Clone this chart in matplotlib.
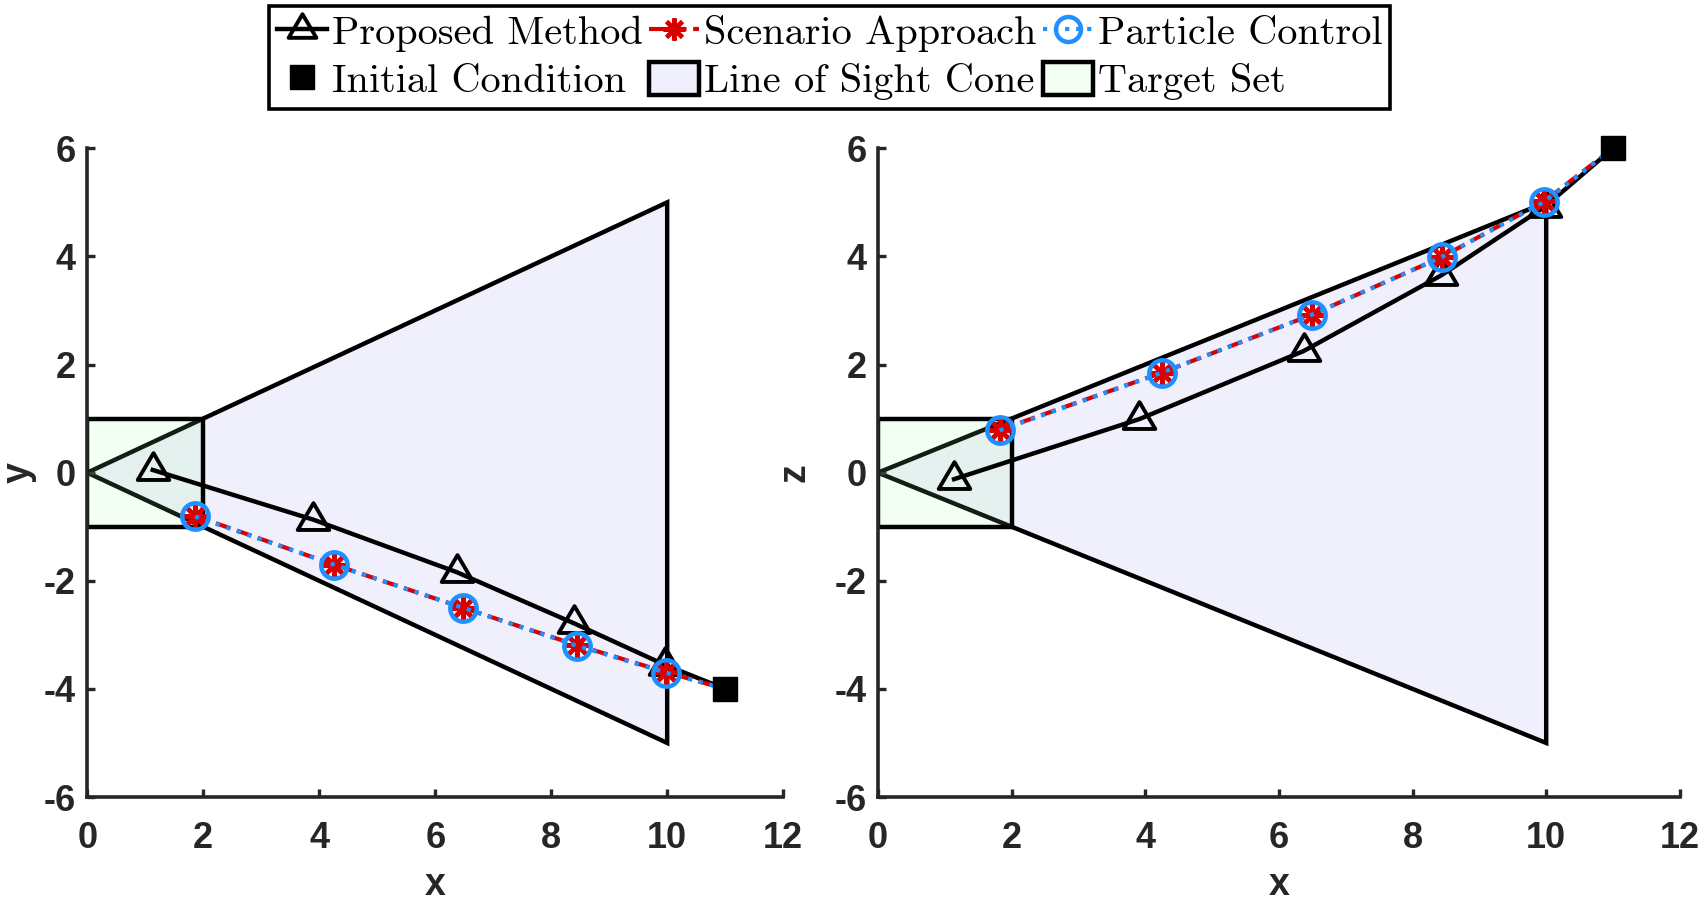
import matplotlib
matplotlib.use('Agg')
import matplotlib.pyplot as plt
from matplotlib.patches import Polygon, Patch
from matplotlib.lines import Line2D
from matplotlib.path import Path

# trajectories (x-y plane on the left, x-z plane on the right)
prop_x_xy = [1.13, 3.90, 6.37, 8.40, 9.97, 11.0]
prop_y_xy = [0.05, -0.87, -1.84, -2.79, -3.56, -4.0]
scen_x_xy = [1.86, 4.25, 6.48, 8.44, 9.98, 11.0]
scen_y_xy = [-0.80, -1.70, -2.50, -3.19, -3.69, -4.0]
part_x_xy = [1.86, 4.25, 6.48, 8.44, 9.98, 11.0]
part_y_xy = [-0.81, -1.70, -2.50, -3.20, -3.70, -4.0]

prop_x_xz = [1.14, 3.91, 6.37, 8.43, 9.98, 11.0]
prop_z_xz = [-0.12, 0.99, 2.25, 3.65, 4.92, 6.0]
scen_x_xz = [1.82, 4.25, 6.49, 8.44, 9.97, 11.0]
scen_z_xz = [0.79, 1.85, 2.92, 3.99, 5.02, 6.0]
part_x_xz = [1.82, 4.25, 6.49, 8.44, 9.97, 11.0]
part_z_xz = [0.78, 1.85, 2.92, 3.99, 5.01, 6.0]

init_xy = (11, -4)
init_xz = (11, 6)

cone_x = [0, 10, 10]
cone_y = [0, 5, -5]
target_x = [0, 2, 2, 0]
target_y = [-1, -1, 1, 1]

ticks_x = [0, 2, 4, 6, 8, 10, 12]
ticks_y = [-6, -4, -2, 0, 2, 4, 6]

plt.rcParams['font.family'] = 'Liberation Sans'
plt.rcParams['font.weight'] = 'bold'
plt.rcParams['axes.unicode_minus'] = False

axcol = '#262626'
red = '#d90000'
blue = '#1e90ff'
cone_fc = '#f0f0fc'
target_fc = (0.6, 1.0, 0.6, 0.12)
# closed, slightly flattened triangle like matlab's '^'
tri = Path([(0, 1.1), (-1, -0.6), (1, -0.6), (0, 1.1)],
           [Path.MOVETO, Path.LINETO, Path.LINETO, Path.CLOSEPOLY])

fig = plt.figure(figsize=(17.07, 9.01), dpi=100)
ax1 = fig.add_axes([0.0511, 0.1154, 0.4077, 0.72])
ax2 = fig.add_axes([0.5143, 0.1154, 0.4698, 0.72])


def draw(ax, px, py, sx, sy, cx, cy, init, ylab, ylab_x):
  ax.add_patch(Polygon(list(zip(cone_x, cone_y)), closed=True, fc=cone_fc, ec='black', lw=3.2, zorder=1))
  ax.add_patch(Polygon(list(zip(target_x, target_y)), closed=True, fc=target_fc, ec='black', lw=3.2, zorder=2))
  n = len(px) - 1
  ax.plot(px, py, color='black', lw=3.2, marker=tri, ms=25, mfc='none', mec='black', mew=2.8,
          markevery=slice(0, n), zorder=3)
  ax.plot(sx, sy, color=red, ls='--', lw=3, marker=(8, 2, 0), ms=18, mew=3,
          markevery=slice(0, n), zorder=4)
  ax.plot(cx, cy, color=blue, ls=':', lw=3, marker='o', ms=19, mfc='none', mew=3.2,
          markevery=slice(0, n), zorder=5)
  ax.plot([init[0]], [init[1]], 's', color='black', ms=17, clip_on=False, zorder=6)

  ax.set_xlim(0, 12)
  ax.set_ylim(-6, 6)
  ax.set_xticks(ticks_x)
  ax.set_yticks(ticks_y)
  for s in ['top', 'right']:
    ax.spines[s].set_visible(False)
  for s in ['left', 'bottom']:
    ax.spines[s].set_color(axcol)
    ax.spines[s].set_linewidth(2.6)
  ax.tick_params(direction='in', length=6, width=2.4, color=axcol, labelcolor=axcol, labelsize=26)
  ax.tick_params(axis='x', pad=17)
  ax.tick_params(axis='y', pad=8)
  ax.set_xlabel('x', fontsize=27, fontweight='bold', color=axcol)
  ax.set_ylabel(ylab, fontsize=27, fontweight='bold', color=axcol)
  ax.xaxis.set_label_coords(0.5, -0.108)
  ax.yaxis.set_label_coords(ylab_x, 0.5)


draw(ax1, prop_x_xy, prop_y_xy, scen_x_xy, scen_y_xy, part_x_xy, part_y_xy, init_xy, 'y', -0.072)
draw(ax2, prop_x_xz, prop_z_xz, scen_x_xz, scen_z_xz, part_x_xz, part_z_xz, init_xz, 'z', -0.082)

h_pm = Line2D([], [], color='black', lw=3.2, marker=tri, ms=22, mfc='none', mew=2.8)
h_sa = Line2D([], [], color=red, ls='--', lw=3, marker=(8, 2, 0), ms=16, mew=3)
h_pc = Line2D([], [], color=blue, ls=':', lw=3, marker='o', ms=18, mfc='none', mew=3.2)
h_ic = Line2D([], [], color='black', ls='none', marker='s', ms=17)
h_cone = Patch(fc=cone_fc, ec='black', lw=3.2)
h_tg = Patch(fc=target_fc, ec='black', lw=3.2)

leg = fig.legend([h_pm, h_ic, h_sa, h_cone, h_pc, h_tg],
                 ['Proposed Method', 'Initial Condition', 'Scenario Approach',
                  'Line of Sight Cone', 'Particle Control', 'Target Set'],
                 ncol=3, loc='upper center', bbox_to_anchor=(0.486, 0.993),
                 prop={'family': 'cmr10', 'size': 29}, frameon=True, fancybox=False,
                 edgecolor='black', framealpha=1, handlelength=1.25, handleheight=0.85,
                 handletextpad=0.12, columnspacing=0.15, borderpad=0.2, labelspacing=0.25,
                 borderaxespad=0)
leg.get_frame().set_linewidth(2.6)

fig.savefig('out.png', dpi=100)
